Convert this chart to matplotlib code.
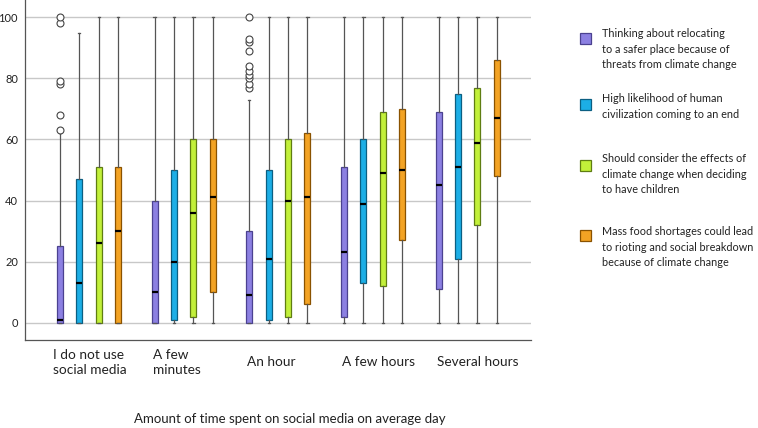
import numpy as np
import matplotlib
matplotlib.use("Agg")
import matplotlib.pyplot as plt
from matplotlib.patches import Rectangle

plt.rcParams['font.family'] = ['Lato', 'DejaVu Sans']

groups = ["I do not use\nsocial media", "A few\nminutes", "An hour", "A few hours", "Several hours"]
series = ["Thinking about relocating\nto a safer place because of\nthreats from climate change",
          "High likelihood of human\ncivilization coming to an end",
          "Should consider the effects of\nclimate change when deciding\nto have children",
          "Mass food shortages could lead\nto rioting and social breakdown\nbecause of climate change"]
colors = ["#8c80e2", "#1caee6", "#c2f03a", "#f3a324"]
edges = ["#4b4190", "#0b5f82", "#5f7d12", "#8a5200"]

# per group, per series: [whislo, q1, med, q3, whishi]
relocating = [[0, 0, 1, 25, 62], [0, 0, 10, 40, 100], [0, 0, 9, 30, 73], [0, 2, 23, 51, 100], [0, 11, 45, 69, 100]]
civilization = [[0, 0, 13, 47, 95], [0, 1, 20, 50, 100], [0, 1, 21, 50, 100], [0, 13, 39, 60, 100], [0, 21, 51, 75, 100]]
children = [[0, 0, 26, 51, 100], [0, 2, 36, 60, 100], [0, 2, 40, 60, 100], [0, 12, 49, 69, 100], [0, 32, 59, 77, 100]]
shortages = [[0, 0, 30, 51, 100], [0, 10, 41, 60, 100], [0, 6, 41, 62, 100], [0, 27, 50, 70, 100], [0, 48, 67, 86, 100]]
outliers_relocating = [[63, 68, 78, 79, 98, 100], [], [77, 78, 80, 81, 82.5, 84, 89, 92, 93, 100], [], []]

all_series = [relocating, civilization, children, shortages]

fig = plt.figure(figsize=(7.58, 4.28), dpi=100)
ax = fig.add_axes([25/758, 88/428, 506/758, 340/428])

for k, data in enumerate(all_series):
    stats = []
    pos = []
    for g, v in enumerate(data):
        fl = outliers_relocating[g] if k == 0 else []
        stats.append(dict(whislo=v[0], q1=v[1], med=v[2], q3=v[3], whishi=v[4], fliers=fl))
        pos.append(g * 4.88 + k)
    ax.bxp(stats, positions=pos, widths=0.31, patch_artist=True, showfliers=True,
           boxprops=dict(facecolor=colors[k], edgecolor=edges[k], linewidth=0.9),
           medianprops=dict(color="black", linewidth=1.6),
           whiskerprops=dict(color="#555555", linewidth=0.9),
           capprops=dict(color="#555555", linewidth=0.9),
           capwidths=0.12,
           flierprops=dict(marker="o", markersize=5, markerfacecolor="white",
                           markeredgecolor="#444444", markeredgewidth=0.8),
           zorder=3)

ax.set_xlim(-1.8, 24.28)
ax.set_ylim(-5.66, 105.66)
ax.set_yticks(np.arange(0, 101, 20))
ax.tick_params(axis="y", length=0, labelsize=8, pad=5, labelcolor="#222222")
ax.set_xticks([])
ax.yaxis.grid(True, color="#c8c8c8", linewidth=1)
ax.set_axisbelow(True)
for s in ["top", "right"]:
    ax.spines[s].set_visible(False)
for s in ["left", "bottom"]:
    ax.spines[s].set_color("#555555")
    ax.spines[s].set_linewidth(0.9)

label_dx = [-0.36, -0.1, -0.1, -0.1, -0.1]
for g, name in enumerate(groups):
    ax.text(g * 4.88 + label_dx[g], -0.065, name, transform=ax.get_xaxis_transform(),
            ha="left", va="center", fontsize=9.8, color="#222222", linespacing=1.3)

fig.text(290/758, 1 - 419/428, "Amount of time spent on social media on average day",
         ha="center", va="center", fontsize=9.5, color="#222222")

# legend
leg_y = [35, 100, 160, 233]
box_y = [38, 105, 165, 235]
for k, lab in enumerate(series):
    yb = 1 - box_y[k] / 428
    fig.patches.append(Rectangle((580/758, yb - 5.5/428), 11/758, 11/428, transform=fig.transFigure,
                                 facecolor=colors[k], edgecolor=edges[k], linewidth=0.9))
    y = 1 - leg_y[k] / 428
    fig.text(602/758, y + 7/428, lab, ha="left", va="top", fontsize=7.8, color="#222222",
             linespacing=1.52)

plt.savefig("out.png", dpi=100)
